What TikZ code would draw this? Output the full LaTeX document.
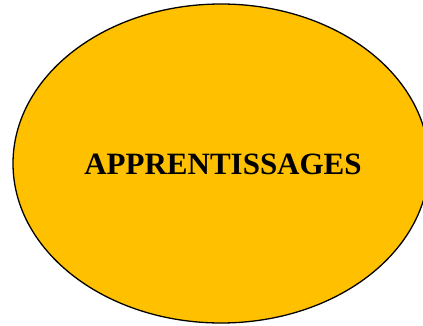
\documentclass[tikz,border=0pt]{standalone}
\usepackage{fontspec}
\setmainfont{Liberation Serif}
\definecolor{gold}{HTML}{FFC000}
\begin{document}
\begin{tikzpicture}[x=1pt,y=1pt,
  blob/.style={draw=black,line width=1.3pt,fill=gold}]
\useasboundingbox (0,0) rectangle (423,325);
\begin{scope}
\clip (0,0) rectangle (423,325);
\draw[blob] (221,161.5) ellipse [x radius=208, y radius=159.5];
\end{scope}
\node[font=\fontsize{31}{36}\selectfont\bfseries, inner sep=0pt] (title) at (223,161) {APPRENTISSAGES};
\end{tikzpicture}
\end{document}
